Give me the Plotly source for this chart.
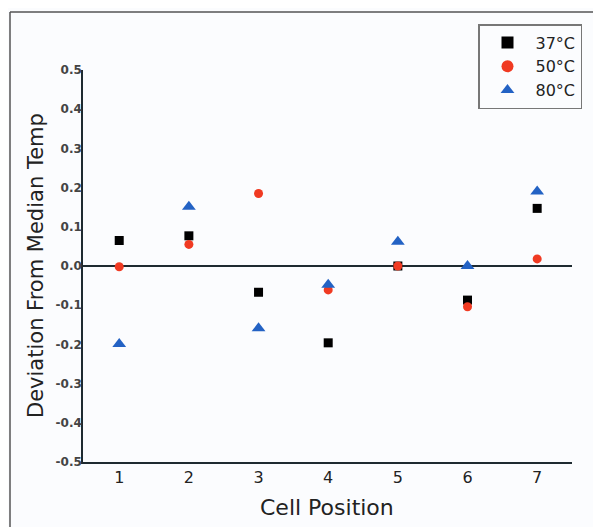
import plotly.graph_objects as go

positions = [1, 2, 3, 4, 5, 6, 7]
t37 = [0.065, 0.077, -0.067, -0.196, 0.0, -0.087, 0.147]
t50 = [-0.002, 0.055, 0.185, -0.061, 0.0, -0.104, 0.018]
t80 = [-0.199, 0.151, -0.159, -0.048, 0.062, 0.0, 0.190]
series_names = ["37°C", "50°C", "80°C"]
y_ticks = [-0.5, -0.4, -0.3, -0.2, -0.1, 0.0, 0.1, 0.2, 0.3, 0.4, 0.5]
y_tick_text = ["-0.5", "-0.4", "-0.3", "-0.2", "-0.1", "0.0", "0.1", "0.2", "0.3", "0.4", "0.5"]

# page body has an 8px margin; figure coordinates are offset by it
OFF = 8
W, H = 601, 527
L, R, T, B = 83 - OFF, W - (572 - OFF), 70 - OFF, H - (462 - OFF)
PW, PH = W - L - R, H - T - B


def px_x(sx):
    return (sx - OFF - L) / PW


def px_y(sy):
    return (H - B - (sy - OFF)) / PH


fig = go.Figure()
fig.add_trace(go.Scatter(x=positions, y=t37, mode="markers", name=series_names[0],
                         marker=dict(symbol="square", size=9, color="#000000")))
fig.add_trace(go.Scatter(x=positions, y=t50, mode="markers", name=series_names[1],
                         marker=dict(symbol="circle", size=9, color="#f03a22")))
fig.add_trace(go.Scatter(x=positions, y=t80, mode="markers", name=series_names[2],
                         marker=dict(symbol="triangle-up", size=12, color="#2362c4")))

fig.update_layout(
    width=W, height=H,
    margin=dict(l=L, r=R, t=T, b=B, autoexpand=False),
    paper_bgcolor="#fbfcfe",
    plot_bgcolor="#fbfcfe",
    font=dict(family="DejaVu Sans", color="#222222"),
    showlegend=True,
    legend=dict(xref="container", yref="container", x=(478 - OFF) / W, y=1 - (24 - OFF) / H,
                xanchor="left", yanchor="top",
                bordercolor="#777777", borderwidth=1.5, bgcolor="#fbfcfe",
                font=dict(size=16, color="#222222"), itemsizing="constant",
                itemwidth=46, tracegroupgap=0),
    xaxis=dict(range=[0.48, 7.5], tickvals=positions, ticktext=[str(p) for p in positions],
               showgrid=False, zeroline=False, showline=True, linecolor="#1e2a30", linewidth=1.5,
               ticks="", tickfont=dict(size=16, color="#222222"), automargin=False),
    yaxis=dict(range=[-0.5, 0.5], tickvals=y_ticks, ticktext=y_tick_text,
               showgrid=False, zeroline=True, zerolinecolor="#1e2a30", zerolinewidth=1.5,
               showline=True, linecolor="#1e2a30", linewidth=1.5,
               ticks="", ticklabelstandoff=-3, automargin=False,
               tickfont=dict(size=12, color="#444444", family="DejaVu Sans", weight="bold")),
    annotations=[
        dict(text="Cell Position", xref="paper", yref="paper",
             x=px_x(327), y=px_y(507), xanchor="center", yanchor="middle",
             showarrow=False, font=dict(size=22, color="#222222")),
        dict(text="Deviation From Median Temp", xref="paper", yref="paper",
             x=px_x(36), y=px_y(266), xanchor="center", yanchor="middle",
             textangle=-90, showarrow=False, font=dict(size=21, color="#222222")),
    ],
    shapes=[
        dict(type="line", xref="paper", yref="paper", x0=px_x(10), x1=px_x(10),
             y0=px_y(12), y1=px_y(540), line=dict(color="#555555", width=1.5)),
        dict(type="line", xref="paper", yref="paper", x0=px_x(10), x1=px_x(620),
             y0=px_y(12), y1=px_y(12), line=dict(color="#555555", width=1.5)),
    ],
)

fig.write_html("out.html")
